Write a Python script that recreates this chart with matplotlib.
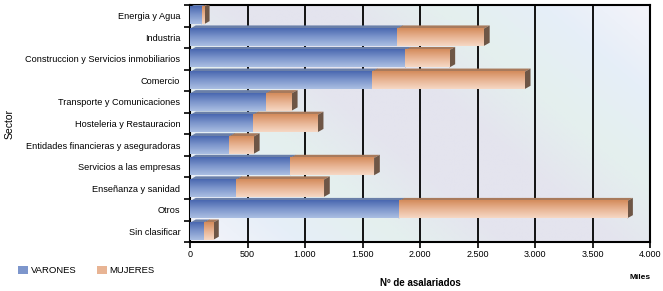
import numpy as np
import matplotlib.pyplot as plt
from matplotlib.patches import Patch, Polygon
from matplotlib.colors import LinearSegmentedColormap

sectores = ["Energia y Agua", "Industria", "Construccion y Servicios inmobiliarios",
            "Comercio", "Transporte y Comunicaciones", "Hosteleria y Restauracion",
            "Entidades financieras y aseguradoras", "Servicios a las empresas",
            "Enseñanza y sanidad", "Otros", "Sin clasificar"]
varones = [100, 1800, 1870, 1580, 660, 545, 340, 870, 400, 1815, 120]
mujeres = [20, 755, 385, 1330, 225, 565, 215, 730, 765, 1985, 80]
xticks = [0, 500, 1000, 1500, 2000, 2500, 3000, 3500, 4000]
xtick_labels = ["0", "500", "1.000", "1.500", "2.000", "2.500", "3.000", "3.500", "4.000"]

plt.rcParams['font.family'] = ['Liberation Sans', 'DejaVu Sans']

fig = plt.figure(figsize=(6.63, 2.91), dpi=100)
ax = fig.add_axes([0.2866, 0.168, 0.694, 0.815])
ax.set_xlim(0, 4000)
ax.set_ylim(len(sectores) - 0.5, -0.5)

# pastel diagonal background
bg = LinearSegmentedColormap.from_list("bg", ["#f4f4fa", "#e6eef8", "#e4f0ee", "#e4e4ee",
                                              "#e4e4ee", "#e4f0ee", "#e6eef8", "#f4f4fa"])
yy, xx = np.mgrid[0:1:200j, 0:1:400j]
ax.imshow(xx * 0.9 + (1 - yy) * 0.55, cmap=bg, aspect='auto', zorder=0,
          extent=[0, 4000, len(sectores) - 0.5, -0.5])

blue = LinearSegmentedColormap.from_list("b", ["#4a68b0", "#7d96cc", "#aabee2"])
orange = LinearSegmentedColormap.from_list("o", ["#d48c5c", "#e8b494", "#f6d8c4"])
grad = np.linspace(0, 1, 50).reshape(-1, 1)

h = 0.8
ddx, ddy = 50, 0.15  # depth of the fake 3D boxes


def bar3d(x0, w, y, cmap, top, side):
    ax.add_patch(Polygon([(x0, y - h / 2), (x0 + ddx, y - h / 2 - ddy),
                          (x0 + w + ddx, y - h / 2 - ddy), (x0 + w, y - h / 2)],
                         closed=True, fc=top, ec='none', zorder=3))
    ax.add_patch(Polygon([(x0 + w, y - h / 2), (x0 + w + ddx, y - h / 2 - ddy),
                          (x0 + w + ddx, y + h / 2 - ddy), (x0 + w, y + h / 2)],
                         closed=True, fc=side, ec='none', zorder=3))
    ax.imshow(grad, cmap=cmap, aspect='auto', zorder=4,
              extent=[x0, x0 + w, y + h / 2, y - h / 2])


for i in range(len(sectores)):
    bar3d(0, varones[i], i, blue, "#6a7fa8", "#4a5a80")
    bar3d(varones[i], mujeres[i], i, orange, "#a87a5c", "#6e5646")

for x in xticks[1:]:
    ax.axvline(x, color='black', lw=1.3, zorder=1)

ax.set_xticks(xticks)
ax.set_xticklabels(xtick_labels, fontsize=6.5)
ax.set_yticks(range(len(sectores)))
ax.set_yticklabels(sectores, fontsize=6.6)
ax.set_yticks(np.arange(-0.5, len(sectores)), minor=True)
ax.tick_params(axis='y', which='major', length=0, pad=7)
ax.tick_params(axis='y', which='minor', length=4, width=1.2)
ax.tick_params(axis='x', length=4, width=1.2, pad=2)
for s in ax.spines.values():
    s.set_linewidth(1.5)

ax.set_xlabel("Nº de asalariados", fontsize=7, fontweight='bold', labelpad=13)
ax.set_ylabel("Sector", fontsize=7.5, labelpad=8)
fig.text(0.965, 0.04, "Miles", fontsize=6, fontweight='bold', ha='center')

fig.legend(handles=[Patch(fc="#7d96cc", label="VARONES"), Patch(fc="#e8b494", label="MUJERES")],
           loc='lower left', bbox_to_anchor=(0.015, 0.025), ncol=2, frameon=False,
           fontsize=6.8, handlelength=1.0, handleheight=0.8, columnspacing=2.2, handletextpad=0.3)

fig.savefig("out.png", dpi=100)
